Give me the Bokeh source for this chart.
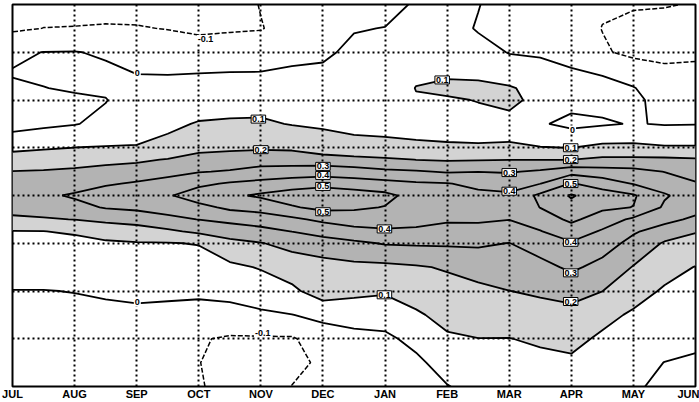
import numpy as np
from bokeh.plotting import figure
from bokeh.models import Range1d, FixedTicker, Label
from bokeh.embed import file_html
from bokeh.resources import INLINE

# ---- data ----
month_labels = ["JUL", "AUG", "SEP", "OCT", "NOV", "DEC", "JAN", "FEB", "MAR", "APR", "MAY", "JUN"]
month_ticks = [0, 1, 2, 3, 4, 5, 6, 7, 8, 9, 10, 11]
lat_grid_ticks = [-15, -10, -5, 0, 5, 10, 15]

grid_months = [0.0, 0.5, 1.0, 1.5, 2.0, 2.5, 3.0, 3.5, 4.0, 4.5, 5.0, 5.5,
               6.0, 6.5, 7.0, 7.5, 8.0, 8.5, 9.0, 9.5, 10.0, 10.5, 11.0]
grid_lats = [20, 17.5, 15, 12.5, 11.25, 10, 7.5, 5, 3.75, 2.5, 1.25, 0,
             -1.25, -2.5, -3.75, -5, -7.5, -10, -12.5, -15, -17.5, -20]

# field values, one row per latitude (top row = 20, bottom row = -20)
field_rows = [
    [-0.14, -0.13, -0.13, -0.13, -0.13, -0.14, -0.15, -0.15, -0.095, -0.08, -0.06, -0.04, -0.03, 0.01, 0.02, 0.005, -0.06, -0.08, -0.09, -0.09, -0.09, -0.095, -0.105],
    [-0.115, -0.099, -0.097, -0.093, -0.095, -0.103, -0.115, -0.11, -0.105, -0.06, -0.04, -0.005, 0.002, 0.03, 0.05, -0.01, -0.035, -0.05, -0.06, -0.102, -0.13, -0.13, -0.13],
    [-0.01, 0.001, 0.004, -0.012, -0.044, -0.051, -0.061, -0.051, -0.044, -0.022, -0.015, 0.019, 0.023, 0.06, 0.08, 0.043, -0.005, -0.012, -0.025, -0.09, -0.12, -0.12, -0.115],
    [0.005, 0.012, 0.02, 0.022, 0.004, 0.003, 0.008, 0.01, 0.01, 0.016, 0.02, 0.043, 0.045, 0.09, 0.096, 0.092, 0.07, 0.042, 0.013, 0.001, -0.039, -0.078, -0.076],
    [-0.035, -0.002, 0.01, 0.012, 0.021, 0.023, 0.032, 0.035, 0.035, 0.036, 0.037, 0.055, 0.056, 0.102, 0.112, 0.115, 0.108, 0.072, 0.03, 0.022, 0.005, -0.06, -0.058],
    [-0.04, -0.02, -0.015, -0.003, 0.038, 0.043, 0.056, 0.059, 0.06, 0.056, 0.055, 0.066, 0.067, 0.095, 0.094, 0.102, 0.112, 0.085, 0.032, 0.028, 0.025, -0.042, -0.04],
    [-0.04, -0.02, -0.004, 0.02, 0.071, 0.083, 0.106, 0.112, 0.115, 0.095, 0.09, 0.089, 0.088, 0.076, 0.078, 0.083, 0.085, 0.01, -0.025, -0.01, 0.005, -0.006, -0.004],
    [0.079, 0.091, 0.101, 0.106, 0.104, 0.124, 0.179, 0.185, 0.188, 0.184, 0.135, 0.113, 0.11, 0.112, 0.107, 0.104, 0.105, 0.104, 0.099, 0.123, 0.123, 0.11, 0.11],
    [0.142, 0.15, 0.16, 0.172, 0.183, 0.206, 0.228, 0.239, 0.253, 0.253, 0.25, 0.233, 0.217, 0.199, 0.19, 0.194, 0.199, 0.199, 0.199, 0.222, 0.222, 0.22, 0.212],
    [0.203, 0.207, 0.216, 0.233, 0.247, 0.272, 0.294, 0.309, 0.338, 0.345, 0.35, 0.34, 0.32, 0.31, 0.291, 0.298, 0.292, 0.314, 0.362, 0.338, 0.328, 0.298, 0.26],
    [0.236, 0.246, 0.264, 0.29, 0.31, 0.333, 0.379, 0.411, 0.427, 0.45, 0.47, 0.45, 0.433, 0.412, 0.404, 0.38, 0.361, 0.398, 0.507, 0.457, 0.394, 0.357, 0.308],
    [0.27, 0.285, 0.31, 0.34, 0.37, 0.39, 0.45, 0.48, 0.515, 0.55, 0.565, 0.55, 0.525, 0.465, 0.45, 0.42, 0.415, 0.523, 0.61, 0.545, 0.511, 0.41, 0.355],
    [0.232, 0.241, 0.275, 0.306, 0.32, 0.339, 0.371, 0.42, 0.438, 0.49, 0.527, 0.515, 0.496, 0.448, 0.44, 0.43, 0.43, 0.502, 0.57, 0.517, 0.498, 0.386, 0.337],
    [0.183, 0.192, 0.202, 0.223, 0.242, 0.277, 0.302, 0.327, 0.35, 0.38, 0.422, 0.447, 0.443, 0.422, 0.412, 0.413, 0.402, 0.448, 0.52, 0.453, 0.382, 0.329, 0.281],
    [0.097, 0.099, 0.108, 0.136, 0.153, 0.182, 0.22, 0.244, 0.269, 0.302, 0.333, 0.369, 0.387, 0.388, 0.368, 0.368, 0.348, 0.396, 0.453, 0.389, 0.312, 0.257, 0.206],
    [0.077, 0.08, 0.082, 0.088, 0.094, 0.095, 0.105, 0.174, 0.196, 0.229, 0.261, 0.281, 0.307, 0.312, 0.314, 0.314, 0.298, 0.346, 0.391, 0.346, 0.269, 0.19, 0.166],
    [0.039, 0.04, 0.042, 0.048, 0.055, 0.055, 0.05, 0.08, 0.107, 0.149, 0.16, 0.176, 0.178, 0.191, 0.209, 0.236, 0.249, 0.27, 0.318, 0.269, 0.195, 0.135, 0.097],
    [-0.002, -0.002, 0.002, 0.008, 0.016, 0.015, 0.018, 0.031, 0.049, 0.08, 0.15, 0.124, 0.111, 0.14, 0.166, 0.18, 0.199, 0.214, 0.233, 0.201, 0.138, 0.089, 0.069],
    [-0.02, -0.02, -0.02, -0.015, -0.015, -0.02, -0.034, -0.036, -0.015, -0.002, 0.025, 0.041, 0.044, 0.088, 0.128, 0.14, 0.15, 0.163, 0.171, 0.127, 0.087, 0.059, 0.042],
    [-0.03, -0.03, -0.03, -0.03, -0.03, -0.04, -0.093, -0.11, -0.11, -0.11, -0.05, -0.03, -0.02, 0.028, 0.088, 0.099, 0.098, 0.114, 0.125, 0.085, 0.05, 0.03, 0.015],
    [-0.035, -0.035, -0.035, -0.035, -0.035, -0.05, -0.098, -0.13, -0.14, -0.13, -0.08, -0.05, -0.04, -0.02, 0.041, 0.06, 0.07, 0.075, 0.085, 0.06, 0.025, -0.001, -0.01],
    [-0.04, -0.04, -0.04, -0.04, -0.04, -0.06, -0.095, -0.12, -0.13, -0.098, -0.07, -0.05, -0.05, -0.04, -0.004, 0.03, 0.05, 0.05, 0.06, 0.04, 0.012, -0.02, -0.03],
]

fill_levels = [0.1, 0.2, 0.7]
fill_colors = ["#d3d3d3", "#b3b3b3"]
solid_levels = [0.0, 0.1, 0.2, 0.3, 0.4, 0.5, 0.6]
dashed_levels = [-0.2, -0.1]

# contour labels (month position, latitude, text, boxed?)
label_month = [3.11, 2.01, 3.96, 4.0, 5.0, 5.0, 5.0, 5.0, 5.99, 5.99, 6.92, 8.0, 8.0,
               8.99, 8.99, 8.99, 8.99, 8.99, 8.99, 2.01, 9.02, 4.03]
label_lat = [16.4, 12.8, 8.0, 4.8, 3.05, 2.1, 0.95, -1.7, -3.5, -10.4, 12.1, 2.4, 0.45,
             5.0, 3.76, 1.25, -4.9, -8.1, -11.1, -11.2, 6.9, -14.4]
label_text = ["-0.1", "0", "0.1", "0.2", "0.3", "0.4", "0.5", "0.5", "0.4", "0.1", "0.1", "0.3", "0.4",
              "0.1", "0.2", "0.5", "0.4", "0.3", "0.2", "0", "0", "-0.1"]
label_boxed = [False, False, True, True, True, True, True, True, True, True, True, True, True,
               True, True, True, True, True, True, False, False, False]

# ---- build the figure ----
xs = np.array(grid_months)
ys = np.array(grid_lats)[::-1]
zs = np.array(field_rows)[::-1, :]

p = figure(width=699, height=402,
           x_range=Range1d(0, 11), y_range=Range1d(-20, 20),
           output_backend="svg", toolbar_location=None,
           min_border_left=12, min_border_right=4, min_border_top=4, min_border_bottom=0,
           background_fill_color="white", border_fill_color="white")

p.contour(xs, ys, zs, fill_levels, fill_color=fill_colors, line_color=None)
p.contour(xs, ys, zs, solid_levels, fill_color=None, line_color="black", line_width=1.8)
p.contour(xs, ys, zs, dashed_levels, fill_color=None, line_color="black",
          line_width=1.5, line_dash="5 2")

p.outline_line_color = "black"
p.outline_line_width = 2

p.yaxis.visible = False
xa = p.xaxis[0]
xa.ticker = FixedTicker(ticks=month_ticks)
xa.major_label_overrides = {t: lab for t, lab in zip(month_ticks, month_labels)}
xa.major_label_text_font = "Liberation Sans"
xa.major_label_text_font_style = "bold"
xa.major_label_text_font_size = "11px"
xa.major_label_text_color = "black"
xa.major_label_standoff = 1
xa.axis_line_color = None
xa.major_tick_line_color = None
xa.minor_tick_line_color = None
xa.major_tick_out = 0
xa.major_tick_in = 0

for g in (p.xgrid[0], p.ygrid[0]):
    g.grid_line_color = "black"
    g.grid_line_dash = "2 3"
    g.grid_line_width = 2
    g.level = "guide"
p.xgrid[0].ticker = FixedTicker(ticks=month_ticks)
p.ygrid[0].ticker = FixedTicker(ticks=lat_grid_ticks)

for m, la, t, boxed in zip(label_month, label_lat, label_text, label_boxed):
    lbl = Label(x=m, y=la, text=t, text_font="Liberation Sans", text_font_style="bold",
                text_font_size="9px", text_color="black", text_align="center",
                text_baseline="middle", background_fill_color="white",
                border_line_color="black" if boxed else None, border_line_width=1,
                padding=1)
    p.add_layout(lbl)

open("out.html", "w").write(file_html(p, INLINE))
